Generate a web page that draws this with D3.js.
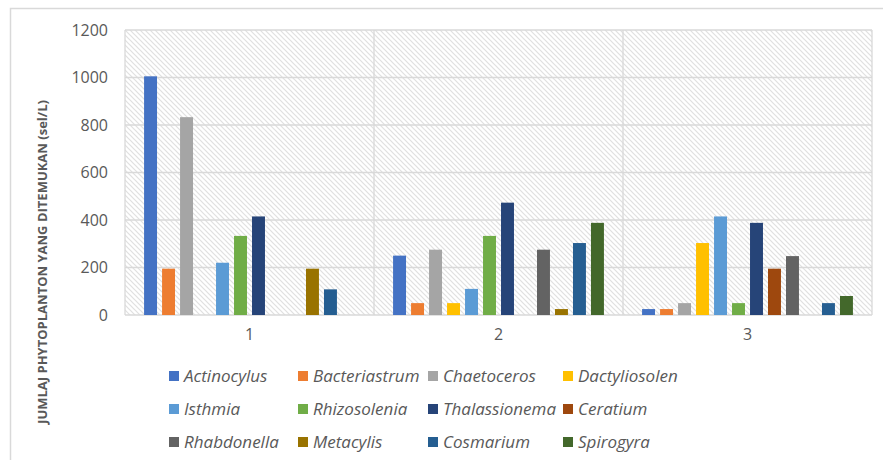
<!DOCTYPE html>
<html><head><meta charset="utf-8">
<script src="https://cdn.jsdelivr.net/npm/d3@7"></script>
<style>
html,body{margin:0;padding:0;background:#fff;}
svg text{font-family:"Open Sans",sans-serif;}
</style></head>
<body><svg id="c" width="883" height="460"></svg>
<script>
const groups = ["1","2","3"];
const species = ["Actinocylus","Bacteriastrum","Chaetoceros","Dactyliosolen","Isthmia","Rhizosolenia","Thalassionema","Ceratium","Rhabdonella","Metacylis","Cosmarium","Spirogyra"];
const colors = ["#4472C4","#ED7D31","#A5A5A5","#FFC000","#5B9BD5","#70AD47","#264478","#9E480E","#636363","#997300","#255E91","#43682B"];
// values per species, for groups 1,2,3
const actinocylus   = [1005, 250, 25];
const bacteriastrum = [195, 50, 25];
const chaetoceros   = [833, 275, 50];
const dactyliosolen = [0, 50, 303];
const isthmia       = [220, 110, 415];
const rhizosolenia  = [333, 333, 50];
const thalassionema = [415, 473, 388];
const ceratium      = [0, 0, 195];
const rhabdonella   = [0, 275, 248];
const metacylis     = [195, 25, 0];
const cosmarium     = [108, 303, 50];
const spirogyra     = [0, 388, 80];
const seriesValues = [actinocylus,bacteriastrum,chaetoceros,dactyliosolen,isthmia,rhizosolenia,thalassionema,ceratium,rhabdonella,metacylis,cosmarium,spirogyra];
const yTicks = [0,200,400,600,800,1000,1200];
const yTitle = "JUMLAJ PHYTOPLANTON YANG DITEMUKAN (sel/L)";

const svg = d3.select("#c");
const L=125, R=872, T=30, B=315;
const grid="#d9d9d9", txt="#595959";

// outer frame
svg.append("path").attr("d","M10.5,460 L10.5,8.5 L883,8.5").attr("fill","none").attr("stroke",grid).attr("stroke-width",1.5);

const defs = svg.append("defs");
const pat = defs.append("pattern").attr("id","hatch").attr("patternUnits","userSpaceOnUse").attr("width",5).attr("height",5);
pat.append("rect").attr("width",5).attr("height",5).attr("fill","#fff");
pat.append("path").attr("d","M0,0 L5,5 M-1,4 L1,6 M4,-1 L6,1").attr("stroke","#e0e0e0").attr("stroke-width",1.2);

const x0 = d3.scaleBand().domain(groups).range([L,R]).padding(0);
const x1 = d3.scaleBand().domain(species).range([0,x0.bandwidth()]).paddingInner(0.28).paddingOuter(1.06);
const y = d3.scaleLinear().domain([0,1200]).range([B,T]);

svg.append("rect").attr("x",L).attr("y",T).attr("width",R-L).attr("height",B-T).attr("fill","url(#hatch)");

// horizontal gridlines
svg.append("g").selectAll("line").data(yTicks).join("line")
  .attr("x1",L).attr("x2",R).attr("y1",d=>y(d)).attr("y2",d=>y(d))
  .attr("stroke",grid).attr("stroke-width",1.3);
// vertical gridlines
const vx = groups.map(g=>x0(g)).concat([R]);
svg.append("g").selectAll("line").data(vx).join("line")
  .attr("x1",d=>d).attr("x2",d=>d).attr("y1",T).attr("y2",B)
  .attr("stroke",grid).attr("stroke-width",1.3);

// y axis labels
const yAxis = svg.append("g").attr("transform",`translate(${L},0)`)
  .call(d3.axisLeft(y).tickValues(yTicks).tickFormat(d3.format("d")).tickSize(0).tickPadding(17));
yAxis.select(".domain").remove();
yAxis.selectAll("text").attr("fill",txt).style("font-size","16px").style("font-family","'Open Sans',sans-serif");

// x axis labels
const xAxis = svg.append("g").attr("transform",`translate(0,${B})`)
  .call(d3.axisBottom(x0).tickSize(0).tickPadding(14));
xAxis.select(".domain").remove();
xAxis.selectAll("text").attr("fill",txt).style("font-size","16px").style("font-family","'Open Sans',sans-serif");

// bars
const data = [];
groups.forEach((g,gi)=>species.forEach((s,si)=>data.push({g,s,si,v:seriesValues[si][gi]})));
svg.append("g").selectAll("rect").data(data.filter(d=>d.v>0)).join("rect")
  .attr("x",d=>x0(d.g)+x1(d.s)).attr("width",x1.bandwidth())
  .attr("y",d=>y(d.v)).attr("height",d=>y(0)-y(d.v))
  .attr("fill",d=>colors[d.si]);

// y title
svg.append("text").attr("transform",`translate(47,262) rotate(-90)`)
  .attr("text-anchor","middle").attr("fill",txt)
  .style("font-size","13px").style("font-weight","bold").text(yTitle);

// legend
const colX = [169,298,428,563];
const rowY = [376,409,442];
const leg = svg.append("g").selectAll("g").data(species).join("g")
  .attr("transform",(d,i)=>`translate(${colX[i%4]},${rowY[Math.floor(i/4)]})`);
leg.append("rect").attr("x",0).attr("y",-5).attr("width",10).attr("height",10).attr("fill",(d,i)=>colors[i]);
leg.append("text").attr("x",15).attr("y",0).attr("dy","0.35em").attr("fill",txt)
  .style("font-size","17px").style("font-style","italic").text(d=>d);
</script></body></html>
